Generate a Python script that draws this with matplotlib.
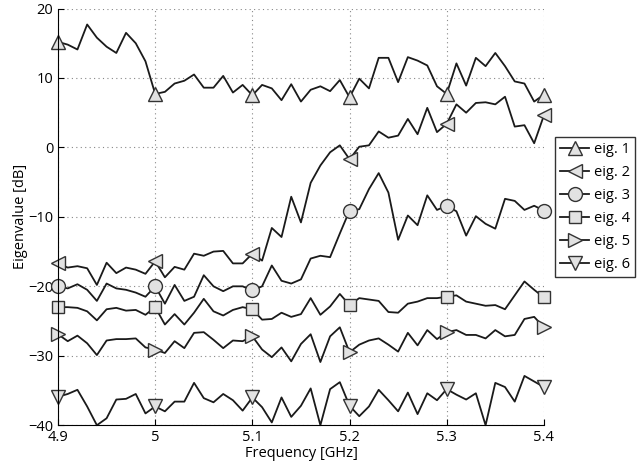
import numpy as np
import matplotlib
matplotlib.use("Agg")
import matplotlib.pyplot as plt

plt.rcParams['font.family'] = ['Open Sans', 'DejaVu Sans']

# frequency axis, 10 MHz steps
freq = np.round(np.arange(4.90, 5.4001, 0.01), 2)

eig1 = [15.2, 14.8, 14.1, 17.7, 15.8, 14.5, 13.6, 16.5, 15.0, 12.4,
        7.7, 8.0, 9.2, 9.6, 10.5, 8.6, 8.6, 10.3, 7.9, 9.0,
        7.5, 9.0, 8.5, 6.8, 9.1, 6.6, 8.3, 8.8, 8.1, 9.7,
        7.2, 9.9, 8.5, 12.9, 12.9, 9.4, 13.0, 12.5, 11.8, 8.8,
        7.7, 12.1, 8.9, 12.9, 11.7, 13.6, 11.7, 9.5, 9.2, 6.6,
        7.6]
eig2 = [-16.7, -17.3, -17.1, -17.4, -19.8, -16.6, -18.1, -17.3, -17.6, -18.2,
        -16.4, -18.7, -17.2, -17.6, -15.3, -15.6, -15.0, -14.9, -16.7, -16.7,
        -15.3, -16.3, -11.6, -12.9, -7.1, -10.8, -5.1, -2.6, -0.7, 0.3,
        -1.7, 0.1, 0.3, 2.3, 1.4, 1.7, 4.1, 1.9, 5.7, 2.2,
        3.4, 6.2, 5.0, 6.4, 6.5, 6.2, 7.3, 3.0, 3.2, 0.6,
        4.6]
eig3 = [-20.0, -20.3, -19.7, -20.5, -22.1, -19.6, -20.3, -20.5, -20.9, -21.5,
        -20.0, -22.5, -19.8, -22.1, -21.5, -18.4, -20.0, -20.7, -20.0, -20.0,
        -20.6, -20.0, -17.0, -19.2, -19.6, -19.0, -16.0, -15.6, -15.8, -12.4,
        -9.1, -8.9, -6.0, -3.7, -6.5, -13.3, -9.8, -11.2, -6.9, -9.0,
        -8.4, -9.2, -12.7, -9.9, -11.0, -11.7, -7.4, -7.7, -9.0, -8.4,
        -9.1]
eig4 = [-23.0, -23.0, -23.1, -23.6, -24.9, -23.3, -23.1, -23.5, -23.4, -24.1,
        -23.0, -25.5, -24.0, -25.5, -23.8, -21.8, -23.6, -24.2, -23.4, -23.0,
        -23.3, -24.8, -24.7, -23.8, -24.4, -24.0, -21.7, -24.1, -22.9, -21.1,
        -22.7, -21.7, -21.9, -22.1, -23.7, -23.8, -22.5, -22.2, -21.7, -21.7,
        -21.5, -21.3, -22.2, -22.5, -22.8, -22.7, -23.3, -21.3, -19.3, -20.5,
        -21.6]
eig5 = [-26.9, -27.9, -27.1, -28.2, -29.9, -27.8, -27.6, -27.6, -27.5, -28.8,
        -29.1, -29.6, -27.9, -28.9, -26.7, -26.6, -27.7, -28.9, -27.8, -27.9,
        -27.2, -29.1, -30.2, -28.8, -30.8, -28.3, -26.9, -30.9, -27.2, -25.9,
        -29.5, -28.4, -27.8, -27.5, -28.4, -29.4, -26.7, -28.5, -26.3, -27.6,
        -26.6, -26.3, -27.0, -27.0, -27.5, -26.3, -27.2, -27.0, -24.7, -24.4,
        -25.9]
eig6 = [-35.9, -35.5, -34.9, -37.3, -40.0, -39.0, -36.3, -36.2, -35.5, -38.3,
        -37.3, -38.0, -36.6, -36.6, -33.9, -36.1, -36.7, -35.5, -36.4, -37.9,
        -36.0, -37.4, -39.6, -36.0, -38.8, -37.2, -34.7, -40.0, -34.8, -33.8,
        -37.2, -38.7, -37.3, -34.9, -36.4, -38.0, -35.3, -38.4, -35.4, -36.4,
        -34.8, -35.6, -36.3, -35.4, -40.0, -33.9, -34.5, -36.6, -32.9, -33.7,
        -34.5]

series = [eig1, eig2, eig3, eig4, eig5, eig6]
labels = ['eig. 1', 'eig. 2', 'eig. 3', 'eig. 4', 'eig. 5', 'eig. 6']
markers = ['^', '<', 'o', 's', '>', 'v']

fig = plt.figure(figsize=(6.41, 4.73), dpi=100)
ax = fig.add_axes([0.0905, 0.101, 0.758, 0.881])

for y, lab, mk in zip(series, labels, markers):
    ax.plot(freq, y, '-', color='#1a1a1a', lw=1.3, marker=mk, markevery=10,
            markersize=10 if mk != 's' else 8.5, markerfacecolor='#e2e2e2',
            markeredgecolor='#333333', markeredgewidth=1.0, label=lab,
            clip_on=False)

ax.set_xlim(4.9, 5.4)
ax.set_ylim(-40, 20)
ax.set_xticks([4.9, 5.0, 5.1, 5.2, 5.3, 5.4])
ax.set_xticklabels(['4.9', '5', '5.1', '5.2', '5.3', '5.4'])
ax.set_yticks([-40, -30, -20, -10, 0, 10, 20])
ax.grid(True, linestyle=(0, (1, 3)), color='#888888', lw=0.8)
ax.spines['top'].set_visible(False)
ax.spines['right'].set_visible(False)
ax.tick_params(direction='in', length=4, labelsize=10.5, color='black')
ax.set_xlabel('Frequency [GHz]', fontsize=10.5, labelpad=1)
ax.set_ylabel('Eigenvalue [dB]', fontsize=10.5, labelpad=0)

leg = ax.legend(loc='center left', bbox_to_anchor=(1.023, 0.523), fontsize=10.5,
                frameon=True, fancybox=False, edgecolor='black',
                handlelength=2.0, handletextpad=0.3, borderpad=0.35,
                labelspacing=0.55, borderaxespad=0)
leg.get_frame().set_linewidth(1.0)

fig.savefig('out.png', dpi=100)
